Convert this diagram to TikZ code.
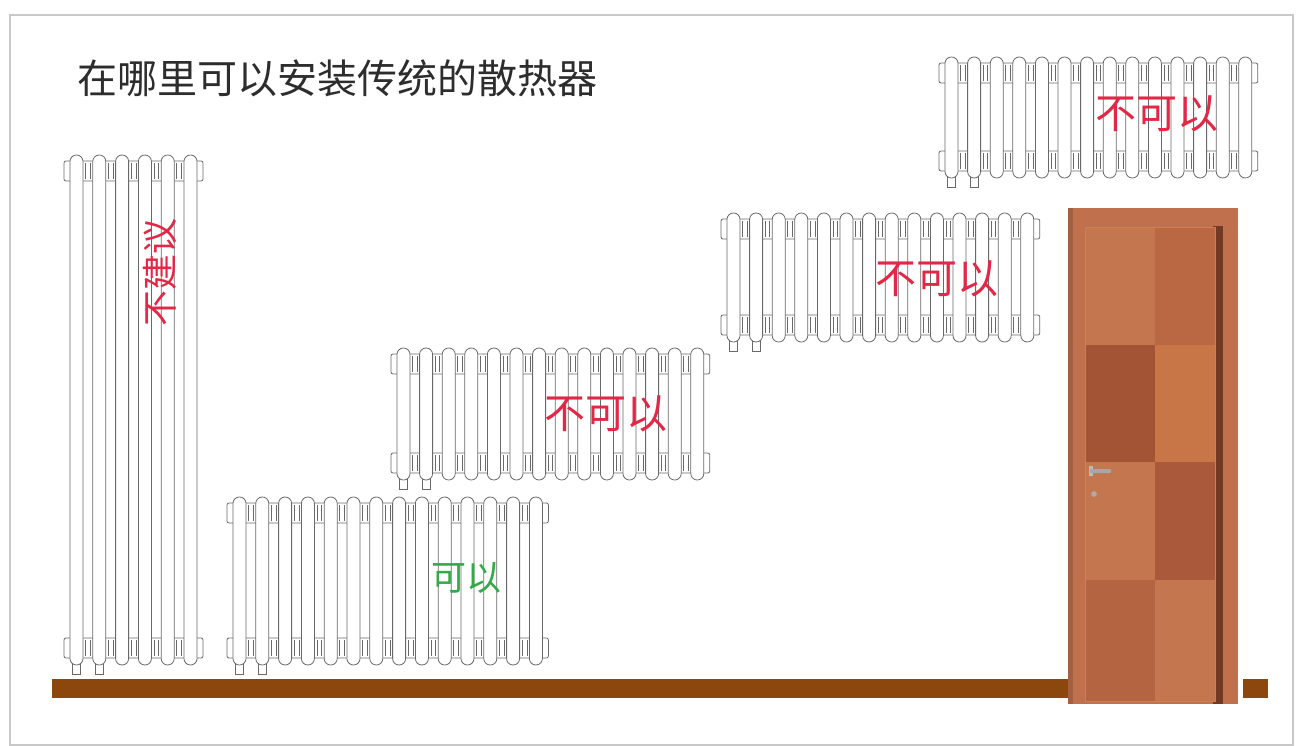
\documentclass[tikz,border=0pt]{standalone}
\usepackage{fontspec}
\newfontfamily\cjk{Noto Sans CJK SC}
\definecolor{slideedge}{RGB}{200,200,200}
\definecolor{titlegray}{RGB}{45,45,45}
\definecolor{radgray}{RGB}{105,105,105}
\definecolor{nored}{RGB}{226,40,70}
\definecolor{okgreen}{RGB}{52,170,70}
\definecolor{floorbrown}{RGB}{140,72,12}
\definecolor{doorframe}{RGB}{192,112,76}
\definecolor{doorshade}{RGB}{115,58,35}
\definecolor{woodA}{RGB}{196,118,78}
\definecolor{woodB}{RGB}{186,104,68}
\definecolor{woodC}{RGB}{162,84,52}
\definecolor{woodD}{RGB}{200,118,72}
\definecolor{woodE}{RGB}{170,90,58}
\definecolor{woodF}{RGB}{180,100,64}
\tikzset{
  radline/.style={draw=radgray, line width=0.8pt},
  tube/.style={radline, fill=white, rounded corners=6.4pt},
  label/.style={inner sep=0pt, font=\cjk\fontsize{41}{44}\selectfont},
  nolabel/.style={label, text=nored},
}
% column radiator: #1 left of first tube, #2 tube top, #3 tube bottom, #4 sections, #5 pitch
\newcommand\drawradiator[5]{%
  \pgfmathsetmacro\xend{#1+(#4-1)*#5+13}
  \pgfmathtruncatemacro\nlast{#4-1}
  % header bands with end stubs
  \draw[radline, fill=white, rounded corners=2pt] (#1-6,#2+6) rectangle (\xend+6,#2+26);
  \draw[radline, fill=white, rounded corners=2pt] (#1-6,#3-27) rectangle (\xend+6,#3-7);
  % nipples between sections
  \foreach \i in {1,...,\nlast}{
    \pgfmathsetmacro\ga{#1+(\i-1)*#5+13+2.5}
    \pgfmathsetmacro\gb{#1+\i*#5-2.5}
    \draw[radline] (\ga,#2+8) -- (\ga,#2+24) (\gb,#2+8) -- (\gb,#2+24);
    \draw[radline] (\ga,#3-25) -- (\ga,#3-9) (\gb,#3-25) -- (\gb,#3-9);
  }
  % feet
  \draw[radline, fill=white] (#1+2.5,#3-4) rectangle ++(8,13);
  \draw[radline, fill=white] (#1+#5+2.5,#3-4) rectangle ++(8,13);
  % sections
  \foreach \i in {0,...,\nlast}{
    \draw[tube] (#1+\i*#5,#2) rectangle ++(13,#3-#2);
  }
}
\begin{document}
\begin{tikzpicture}[x=1pt,y=-1pt]
\useasboundingbox (0,0) rectangle (1298,746);
\fill[white] (0,0) rectangle (1298,746);
% slide edge
\draw[slideedge, line width=1.5pt] (10,15) rectangle (1293,745);

% title
\node[inner sep=0pt, anchor=west, text=titlegray, font=\cjk\fontsize{40}{44}\selectfont] (title) at (77,78) {在哪里可以安装传统的散热器};

% floor
\fill[floorbrown] (52,679) rectangle (1070,698);
\fill[floorbrown] (1243,679) rectangle (1268,698);

% radiators
\drawradiator{70}{155}{665}{6}{22.8}
\drawradiator{233}{497}{665}{14}{22.8}
\drawradiator{397}{348}{480}{14}{22.6}
\drawradiator{727}{213}{342}{14}{22.6}
\drawradiator{945}{57}{178}{14}{22.6}

% verdicts
\node[label, text=nored, rotate=90, font=\cjk\fontsize{36}{40}\selectfont] (tall) at (160,272) {不建议};
\node[label, text=okgreen, font=\cjk\fontsize{35}{40}\selectfont] (ok) at (466,578) {可以};
\node[nolabel] (low) at (606,414) {不可以};
\node[nolabel] (mid) at (937,279) {不可以};
\node[nolabel] (high) at (1157,114) {不可以};

% door frame
\fill[doorframe] (1068,208) rectangle (1238,704);
\fill[doorshade] (1213,226) rectangle (1223,704);
\fill[doorframe!85!black] (1068,208) rectangle (1073,704);
% door leaf in checker panels
\fill[woodA] (1085,227) rectangle (1155,345);
\fill[woodB] (1155,227) rectangle (1215,345);
\fill[woodC] (1085,345) rectangle (1155,462);
\fill[woodD] (1155,345) rectangle (1215,462);
\fill[woodA] (1085,462) rectangle (1155,580);
\fill[woodE] (1155,462) rectangle (1215,580);
\fill[woodF] (1085,580) rectangle (1155,701);
\fill[woodA] (1155,580) rectangle (1215,701);
\draw[doorshade!60, line width=0.5pt] (1085,227) rectangle (1215,701);
% handle and lock
\fill[gray!55] (1089,466) rectangle (1093,476);
\fill[gray!70, rounded corners=1pt] (1090,469) rectangle (1111,473);
\fill[gray!65] (1094,494) circle (2.8);
\end{tikzpicture}
\end{document}
